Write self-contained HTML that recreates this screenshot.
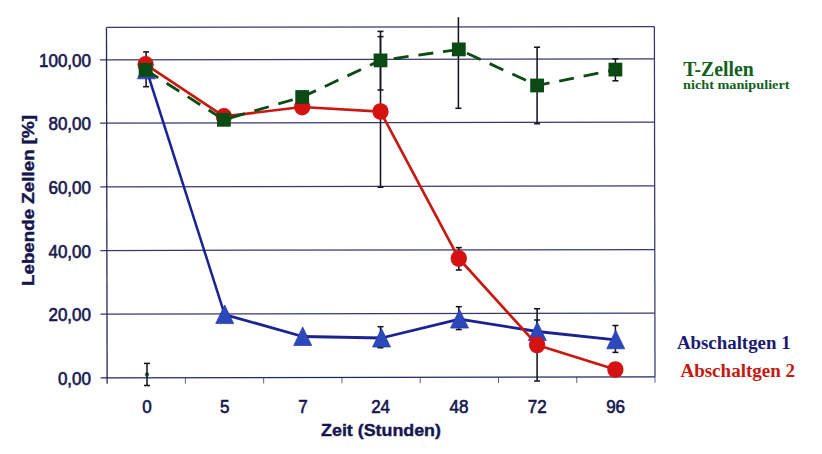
<!DOCTYPE html>
<html><head><meta charset="utf-8"><title>Chart</title>
<style>html,body{margin:0;padding:0;background:#fff;}body{width:822px;height:454px;overflow:hidden;font-family:"Liberation Sans",sans-serif;}svg{display:block;}text{font-family:"Liberation Sans",sans-serif;}.ser{font-family:"Liberation Serif",serif;font-weight:bold;}</style>
</head><body>
<svg width="822" height="454" viewBox="0 0 822 454">
<rect x="0" y="0" width="822" height="454" fill="#ffffff"/>
<g transform="rotate(-0.104 380.7 202)">
<g stroke="#38386e" stroke-width="1.25" fill="none">
<line x1="100.30" y1="313.65" x2="654.70" y2="313.65"/>
<line x1="100.30" y1="250.00" x2="654.70" y2="250.00"/>
<line x1="100.30" y1="186.40" x2="654.70" y2="186.40"/>
<line x1="100.30" y1="122.65" x2="654.70" y2="122.65"/>
<line x1="100.30" y1="59.30" x2="654.70" y2="59.30"/>
<line x1="106.80" y1="27.00" x2="654.70" y2="27.00"/>
<line x1="654.70" y1="27.00" x2="654.70" y2="377.30"/>
</g>
<g stroke="#62628a" stroke-width="1.0" fill="none">
<line x1="185.07" y1="377.30" x2="185.07" y2="383.30"/>
<line x1="263.34" y1="377.30" x2="263.34" y2="383.30"/>
<line x1="341.61" y1="377.30" x2="341.61" y2="383.30"/>
<line x1="419.89" y1="377.30" x2="419.89" y2="383.30"/>
<line x1="498.16" y1="377.30" x2="498.16" y2="383.30"/>
<line x1="576.43" y1="377.30" x2="576.43" y2="383.30"/>
<line x1="654.70" y1="377.30" x2="654.70" y2="383.30"/>
</g>
<g stroke="#26265e" stroke-width="1.3" fill="none">
<line x1="106.80" y1="27.00" x2="106.80" y2="383.30"/>
<line x1="100.30" y1="377.30" x2="654.70" y2="377.30"/>
</g>
</g>
<circle cx="147.0" cy="374.5" r="2.2" fill="#2d7d4a"/>
<g stroke="#15151f" stroke-width="1.55" fill="none">
<line x1="146.1" y1="51.9" x2="146.1" y2="86.7"/><line x1="143.1" y1="51.9" x2="149.1" y2="51.9"/><line x1="143.1" y1="86.7" x2="149.1" y2="86.7"/>
<line x1="147.0" y1="363.4" x2="147.0" y2="385.5"/><line x1="144.0" y1="363.4" x2="150.0" y2="363.4"/><line x1="144.0" y1="385.5" x2="150.0" y2="385.5"/>
<line x1="380.5" y1="31.4" x2="380.5" y2="90.0"/><line x1="377.5" y1="31.4" x2="383.5" y2="31.4"/><line x1="377.5" y1="90.0" x2="383.5" y2="90.0"/>
<line x1="380.5" y1="36.6" x2="380.5" y2="187.2"/><line x1="377.5" y1="36.6" x2="383.5" y2="36.6"/><line x1="377.5" y1="187.2" x2="383.5" y2="187.2"/>
<line x1="380.5" y1="326.7" x2="380.5" y2="347.7"/><line x1="377.5" y1="326.7" x2="383.5" y2="326.7"/><line x1="377.5" y1="347.7" x2="383.5" y2="347.7"/>
<line x1="458.4" y1="17.2" x2="458.4" y2="108.3"/><line x1="455.4" y1="108.3" x2="461.4" y2="108.3"/>
<line x1="458.8" y1="247.6" x2="458.8" y2="270.0"/><line x1="455.8" y1="247.6" x2="461.8" y2="247.6"/><line x1="455.8" y1="270.0" x2="461.8" y2="270.0"/>
<line x1="458.8" y1="306.7" x2="458.8" y2="329.6"/><line x1="455.8" y1="306.7" x2="461.8" y2="306.7"/><line x1="455.8" y1="329.6" x2="461.8" y2="329.6"/>
<line x1="537.1" y1="47.2" x2="537.1" y2="123.7"/><line x1="534.1" y1="47.2" x2="540.1" y2="47.2"/><line x1="534.1" y1="123.7" x2="540.1" y2="123.7"/>
<line x1="537.1" y1="308.8" x2="537.1" y2="381.0"/><line x1="534.1" y1="308.8" x2="540.1" y2="308.8"/><line x1="534.1" y1="381.0" x2="540.1" y2="381.0"/>
<line x1="537.1" y1="320.0" x2="537.1" y2="342.0"/><line x1="534.1" y1="320.0" x2="540.1" y2="320.0"/><line x1="534.1" y1="342.0" x2="540.1" y2="342.0"/>
<line x1="615.4" y1="58.9" x2="615.4" y2="80.8"/><line x1="612.4" y1="58.9" x2="618.4" y2="58.9"/><line x1="612.4" y1="80.8" x2="618.4" y2="80.8"/>
<line x1="615.4" y1="325.5" x2="615.4" y2="352.4"/><line x1="612.4" y1="325.5" x2="618.4" y2="325.5"/><line x1="612.4" y1="352.4" x2="618.4" y2="352.4"/>
</g>
<line x1="146.4" y1="69.5" x2="224.7" y2="314.6" stroke="#1b2292" stroke-width="2.5"/>
<polyline points="224.7,314.6 302.7,336.5 381.5,338.0 459.5,319.1 537.3,331.5 615.7,339.8" fill="none" stroke="#1b2292" stroke-width="2.8" stroke-linejoin="round"/>
<polygon points="146.4,60.2 137.4,78.8 155.4,78.8" fill="#2c48ba" stroke="#2436a6" stroke-width="0.7" stroke-linejoin="round"/>
<polygon points="224.7,305.0 215.7,323.6 233.7,323.6" fill="#2c48ba" stroke="#2436a6" stroke-width="0.7" stroke-linejoin="round"/>
<polygon points="302.7,326.9 293.7,345.5 311.7,345.5" fill="#2c48ba" stroke="#2436a6" stroke-width="0.7" stroke-linejoin="round"/>
<polygon points="381.5,328.4 372.5,347.0 390.5,347.0" fill="#2c48ba" stroke="#2436a6" stroke-width="0.7" stroke-linejoin="round"/>
<polygon points="459.5,309.5 450.5,328.1 468.5,328.1" fill="#2c48ba" stroke="#2436a6" stroke-width="0.7" stroke-linejoin="round"/>
<polygon points="537.3,321.9 528.3,340.5 546.3,340.5" fill="#2c48ba" stroke="#2436a6" stroke-width="0.7" stroke-linejoin="round"/>
<polygon points="615.7,330.2 606.7,348.8 624.7,348.8" fill="#2c48ba" stroke="#2436a6" stroke-width="0.7" stroke-linejoin="round"/>
<polyline points="145.6,64.4 223.9,116.4 302.2,107.0 380.5,111.6 458.8,258.5 537.1,344.9 615.4,369.6" fill="none" stroke="#c81812" stroke-width="2.65" stroke-linejoin="round"/>
<ellipse cx="145.6" cy="64.4" rx="8.15" ry="8.45" fill="#d41212"/>
<ellipse cx="223.9" cy="116.4" rx="8.15" ry="8.45" fill="#d41212"/>
<ellipse cx="302.2" cy="107.0" rx="8.15" ry="8.45" fill="#d41212"/>
<ellipse cx="380.5" cy="111.6" rx="8.15" ry="8.45" fill="#d41212"/>
<ellipse cx="458.8" cy="258.5" rx="8.15" ry="8.45" fill="#d41212"/>
<ellipse cx="537.1" cy="344.9" rx="8.15" ry="8.45" fill="#d41212"/>
<ellipse cx="615.4" cy="369.6" rx="8.15" ry="8.45" fill="#d41212"/>
<polyline points="145.6,69.8 223.9,119.8 302.2,97.0 380.5,60.4 458.8,49.4 537.1,85.5 615.4,69.6" fill="none" stroke="#0c4a14" stroke-width="2.8" stroke-dasharray="15 9.93" stroke-dashoffset="0"/>
<rect x="138.7" y="62.9" width="13.8" height="13.8" fill="#0c4a14"/>
<rect x="217.0" y="112.9" width="13.8" height="13.8" fill="#0c4a14"/>
<rect x="295.3" y="90.1" width="13.8" height="13.8" fill="#0c4a14"/>
<rect x="373.6" y="53.5" width="13.8" height="13.8" fill="#0c4a14"/>
<rect x="451.9" y="42.5" width="13.8" height="13.8" fill="#0c4a14"/>
<rect x="530.2" y="78.6" width="13.8" height="13.8" fill="#0c4a14"/>
<rect x="608.5" y="62.7" width="13.8" height="13.8" fill="#0c4a14"/>
<g fill="#16164f" stroke="#16164f" stroke-width="0.6" font-size="17.0" text-anchor="end">
<text transform="translate(91.0,384.9) scale(1,1.05)">0,00</text>
<text transform="translate(91.0,321.3) scale(1,1.05)">20,00</text>
<text transform="translate(91.0,257.6) scale(1,1.05)">40,00</text>
<text transform="translate(91.0,193.9) scale(1,1.05)">60,00</text>
<text transform="translate(91.0,130.2) scale(1,1.05)">80,00</text>
<text transform="translate(91.0,66.5) scale(1,1.05)">100,00</text>
</g>
<g fill="#16164f" stroke="#16164f" stroke-width="0.6" font-size="17.0" text-anchor="middle">
<text transform="translate(146.9,412.7) scale(1,1.05)">0</text>
<text transform="translate(224.8,412.7) scale(1,1.05)">5</text>
<text transform="translate(303.0,412.7) scale(1,1.05)">7</text>
<text transform="translate(380.6,412.7) scale(1,1.05)">24</text>
<text transform="translate(458.9,412.7) scale(1,1.05)">48</text>
<text transform="translate(537.3,412.7) scale(1,1.05)">72</text>
<text transform="translate(615.6,412.7) scale(1,1.05)">96</text>
</g>
<text x="321.1" y="436.4" fill="#16164f" stroke="#16164f" stroke-width="0.4" font-size="16.8" font-weight="bold" textLength="119.8" lengthAdjust="spacingAndGlyphs">Zeit (Stunden)</text>
<text transform="translate(33.5,286.0) rotate(-90)" fill="#16164f" stroke="#16164f" stroke-width="0.4" font-size="16.8" font-weight="bold" textLength="171" lengthAdjust="spacingAndGlyphs">Lebende Zellen [%]</text>
<text class="ser" x="683.2" y="75.5" fill="#11601d" font-size="20" textLength="70.5" lengthAdjust="spacingAndGlyphs">T-Zellen</text>
<text class="ser" x="683.0" y="88.6" fill="#11601d" font-size="13.4" textLength="106.5" lengthAdjust="spacingAndGlyphs">nicht manipuliert</text>
<text class="ser" x="676.9" y="349.1" fill="#1a1a6e" font-size="19.2" textLength="113.7" lengthAdjust="spacingAndGlyphs">Abschaltgen 1</text>
<text class="ser" x="680.4" y="377" fill="#c41a0e" font-size="19.2" textLength="114.7" lengthAdjust="spacingAndGlyphs">Abschaltgen 2</text>
</svg></body></html>
